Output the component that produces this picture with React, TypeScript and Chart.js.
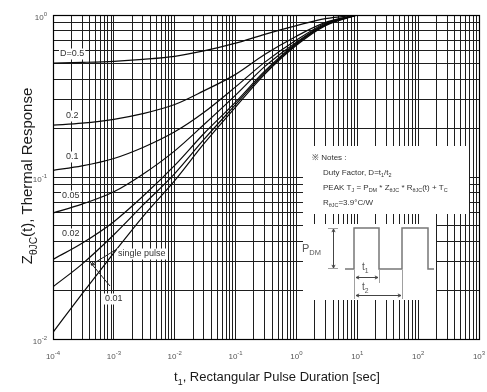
import { useEffect, useRef } from 'react';
import { Chart, registerables } from 'chart.js';

Chart.register(...registerables);

// Rectangular pulse duration t1 [sec]
const pulseDurations = [1e-4, 3e-4, 1e-3, 3e-3, 1e-2, 3e-2, 1e-1, 3e-1, 1, 3, 10];

// Normalised thermal response Zθjc(t) for each duty factor
const responseD050 = [0.505, 0.51, 0.518, 0.532, 0.555, 0.6, 0.67, 0.76, 0.86, 0.95, 1.0];
const responseD020 = [0.209, 0.215, 0.227, 0.246, 0.28, 0.34, 0.43, 0.57, 0.74, 0.9, 1.0];
const responseD010 = [0.11, 0.117, 0.13, 0.152, 0.19, 0.25, 0.36, 0.51, 0.7, 0.89, 1.0];
const responseD005 = [0.06, 0.068, 0.081, 0.104, 0.145, 0.21, 0.32, 0.48, 0.68, 0.88, 1.0];
const responseD002 = [0.031, 0.039, 0.053, 0.076, 0.118, 0.185, 0.29, 0.45, 0.67, 0.87, 1.0];
const responseD001 = [0.021, 0.029, 0.044, 0.067, 0.105, 0.17, 0.28, 0.44, 0.66, 0.87, 1.0];
const responseSingle = [0.011, 0.019, 0.034, 0.057, 0.095, 0.16, 0.27, 0.43, 0.65, 0.86, 1.0];

const seriesNames = ['D=0.5', '0.2', '0.1', '0.05', '0.02', '0.01', 'single pulse'];
const seriesValues = [responseD050, responseD020, responseD010, responseD005, responseD002, responseD001, responseSingle];

// Decade exponents that get a "10^n" label
const xDecades = [-4, -3, -2, -1, 0, 1, 2, 3];
const yDecades = [-2, -1, 0];

const FONT = '"Liberation Sans", Arial, sans-serif';
const TEXT = '#333';

type Run = { t: string; sub?: boolean };

function runsWidth(ctx: CanvasRenderingContext2D, runs: Run[], size: number) {
  let w = 0;
  for (const r of runs) {
    ctx.font = `${r.sub ? size * 0.68 : size}px ${FONT}`;
    w += ctx.measureText(r.t).width;
  }
  return w;
}

function drawRuns(
  ctx: CanvasRenderingContext2D,
  x: number,
  y: number,
  runs: Run[],
  size: number,
  align: 'left' | 'center' | 'right' = 'left'
) {
  const w = runsWidth(ctx, runs, size);
  let cx = align === 'left' ? x : align === 'center' ? x - w / 2 : x - w;
  ctx.textBaseline = 'alphabetic';
  ctx.textAlign = 'left';
  for (const r of runs) {
    ctx.font = `${r.sub ? size * 0.68 : size}px ${FONT}`;
    ctx.fillText(r.t, cx, y + (r.sub ? size * 0.3 : 0));
    cx += ctx.measureText(r.t).width;
  }
}

// "10" with a raised exponent
function drawPower(ctx: CanvasRenderingContext2D, x: number, y: number, exp: number, align: 'center' | 'right') {
  const base = 8;
  const small = 6;
  ctx.font = `${base}px ${FONT}`;
  const bw = ctx.measureText('10').width;
  ctx.font = `${small}px ${FONT}`;
  const es = String(exp);
  const ew = ctx.measureText(es).width;
  const total = bw + ew;
  const sx = align === 'center' ? x - total / 2 : x - total;
  ctx.textAlign = 'left';
  ctx.textBaseline = 'alphabetic';
  ctx.font = `${base}px ${FONT}`;
  ctx.fillText('10', sx, y + 3);
  ctx.font = `${small}px ${FONT}`;
  ctx.fillText(es, sx + bw, y - 1);
}

function arrowHead(ctx: CanvasRenderingContext2D, x: number, y: number, dx: number, dy: number, len = 4) {
  const a = Math.atan2(dy, dx);
  ctx.beginPath();
  ctx.moveTo(x, y);
  ctx.lineTo(x - len * Math.cos(a - 0.45), y - len * Math.sin(a - 0.45));
  ctx.moveTo(x, y);
  ctx.lineTo(x - len * Math.cos(a + 0.45), y - len * Math.sin(a + 0.45));
  ctx.stroke();
}

function labelBox(ctx: CanvasRenderingContext2D, text: string, x: number, y: number, size: number) {
  ctx.font = `${size}px ${FONT}`;
  const w = ctx.measureText(text).width;
  ctx.fillStyle = '#fff';
  ctx.fillRect(x - 1, y - size / 2 - 1, w + 2, size + 2);
  ctx.fillStyle = TEXT;
  ctx.textAlign = 'left';
  ctx.textBaseline = 'middle';
  ctx.fillText(text, x, y);
}

const annotations = {
  id: 'annotations',
  beforeDatasetsDraw(chart: any) {
    const ctx: CanvasRenderingContext2D = chart.ctx;
    ctx.save();
    ctx.fillStyle = '#fff';
    ctx.fillRect(303, 146, 166, 68);
    ctx.fillRect(303, 224, 133, 76);
    ctx.restore();
  },
  afterDatasetsDraw(chart: any) {
    const ctx: CanvasRenderingContext2D = chart.ctx;
    const xs = chart.scales.x;
    const ys = chart.scales.y;
    const area = chart.chartArea;
    ctx.save();

    // frame
    ctx.strokeStyle = '#000';
    ctx.lineWidth = 1.2;
    ctx.strokeRect(Math.round(area.left) + 0.5, Math.round(area.top) + 0.5, Math.round(area.right - area.left), Math.round(area.bottom - area.top));

    // tick labels
    ctx.fillStyle = '#555';
    for (const e of xDecades) drawPower(ctx, xs.getPixelForValue(Math.pow(10, e)), 356, e, 'center');
    for (const e of yDecades) drawPower(ctx, 47, ys.getPixelForValue(Math.pow(10, e)) + 2, e, 'right');

    // curve labels
    labelBox(ctx, seriesNames[0], 60, 54, 9);
    labelBox(ctx, seriesNames[1], 66, 116, 9);
    labelBox(ctx, seriesNames[2], 66, 157, 9);
    labelBox(ctx, seriesNames[3], 62, 196, 9);
    labelBox(ctx, seriesNames[4], 62, 234, 9);
    labelBox(ctx, seriesNames[6], 118, 254, 9);
    labelBox(ctx, seriesNames[5], 105, 299, 9);

    // leaders
    ctx.strokeStyle = '#222';
    ctx.lineWidth = 1;
    ctx.beginPath();
    ctx.moveTo(117, 249);
    ctx.lineTo(91, 265);
    ctx.stroke();
    arrowHead(ctx, 91, 265, -26, 16, 4);
    ctx.beginPath();
    ctx.moveTo(90, 262);
    ctx.lineTo(110, 286);
    ctx.stroke();

    // notes
    ctx.fillStyle = TEXT;
    drawRuns(ctx, 312, 160, [{ t: '※ Notes :' }], 8);
    drawRuns(ctx, 323, 175, [{ t: 'Duty Factor, D=t' }, { t: '1', sub: true }, { t: '/t' }, { t: '2', sub: true }], 8);
    drawRuns(ctx, 323, 190, [
      { t: 'PEAK T' }, { t: 'J', sub: true }, { t: ' = P' }, { t: 'DM', sub: true }, { t: ' * Z' },
      { t: 'θJC', sub: true }, { t: ' * R' }, { t: 'θJC', sub: true }, { t: '(t) + T' }, { t: 'C', sub: true },
    ], 8);
    drawRuns(ctx, 323, 205, [{ t: 'R' }, { t: 'θJC', sub: true }, { t: '=3.9°C/W' }], 8);

    // pulse waveform
    ctx.strokeStyle = '#777';
    ctx.lineWidth = 1.5;
    ctx.beginPath();
    ctx.moveTo(345, 269);
    ctx.lineTo(354, 269);
    ctx.lineTo(354, 228);
    ctx.lineTo(379, 228);
    ctx.lineTo(379, 269);
    ctx.lineTo(402, 269);
    ctx.lineTo(402, 228);
    ctx.lineTo(428, 228);
    ctx.lineTo(428, 269);
    ctx.lineTo(434, 269);
    ctx.stroke();

    // dimension lines
    ctx.lineWidth = 0.8;
    ctx.strokeStyle = '#888';
    ctx.beginPath();
    ctx.moveTo(354.5, 270); ctx.lineTo(354.5, 299);
    ctx.moveTo(379.5, 270); ctx.lineTo(379.5, 283);
    ctx.moveTo(402.5, 270); ctx.lineTo(402.5, 299);
    ctx.moveTo(328, 228.5); ctx.lineTo(338, 228.5);
    ctx.moveTo(328, 268.5); ctx.lineTo(338, 268.5);
    ctx.stroke();
    ctx.strokeStyle = '#444';
    ctx.lineWidth = 1;
    ctx.beginPath();
    ctx.moveTo(333.5, 229); ctx.lineTo(333.5, 268);
    ctx.moveTo(356, 277.5); ctx.lineTo(378, 277.5);
    ctx.moveTo(356, 295.5); ctx.lineTo(401, 295.5);
    ctx.stroke();
    arrowHead(ctx, 333.5, 229, 0, -1, 3.5);
    arrowHead(ctx, 333.5, 268, 0, 1, 3.5);
    arrowHead(ctx, 356, 277.5, -1, 0, 3.5);
    arrowHead(ctx, 378, 277.5, 1, 0, 3.5);
    arrowHead(ctx, 356, 295.5, -1, 0, 3.5);
    arrowHead(ctx, 401, 295.5, 1, 0, 3.5);

    ctx.fillStyle = '#555';
    drawRuns(ctx, 302, 252, [{ t: 'P' }, { t: 'DM', sub: true }], 11);
    drawRuns(ctx, 362, 270, [{ t: 't' }, { t: '1', sub: true }], 10);
    drawRuns(ctx, 362, 290, [{ t: 't' }, { t: '2', sub: true }], 10);

    // axis titles
    ctx.fillStyle = '#1a1a1a';
    drawRuns(ctx, 277, 381, [{ t: 't' }, { t: '1', sub: true }, { t: ', Rectangular Pulse Duration [sec]' }], 13, 'center');
    ctx.translate(32, 176);
    ctx.rotate(-Math.PI / 2);
    drawRuns(ctx, 0, 0, [{ t: 'Z' }, { t: 'θJC', sub: true }, { t: '(t), Thermal Response' }], 15, 'center');

    ctx.restore();
  },
};

// every 1..9 x 10^n inside the axis range becomes a grid line
function logGridTicks(scale: any) {
  const vals: { value: number }[] = [];
  const lo = Math.floor(Math.log10(scale.min));
  const hi = Math.ceil(Math.log10(scale.max));
  for (let e = lo; e <= hi; e++) {
    for (let m = 1; m <= 9; m++) {
      const v = m * Math.pow(10, e);
      if (v >= scale.min * 0.999999 && v <= scale.max * 1.000001) vals.push({ value: v });
    }
  }
  scale.ticks = vals;
}

export default function App() {
  const canvasRef = useRef<HTMLCanvasElement | null>(null);

  useEffect(() => {
    const canvas = canvasRef.current;
    if (!canvas) return;
    const datasets = seriesNames.map((name, i) => ({
      label: name,
      data: pulseDurations.map((t, j) => ({ x: t, y: seriesValues[i][j] })),
      borderColor: '#0a0a0a',
      borderWidth: 1.2,
      pointRadius: 0,
      fill: false,
      cubicInterpolationMode: 'monotone' as const,
    }));

    const chart = new Chart(canvas, {
      type: 'line',
      data: { datasets },
      plugins: [annotations],
      options: {
        responsive: false,
        animation: false,
        layout: { padding: { top: 15, right: 8, left: 0, bottom: 0 } },
        plugins: { legend: { display: false }, tooltip: { enabled: false } },
        scales: {
          x: {
            type: 'logarithmic',
            min: 1e-4,
            max: 1e3,
            afterBuildTicks: logGridTicks,
            afterFit: (s: any) => { s.height = 53; },
            ticks: { display: false },
            grid: { color: '#1e1e1e', lineWidth: 1, drawTicks: false },
            border: { display: false },
          },
          y: {
            type: 'logarithmic',
            min: 0.01,
            max: 1,
            afterBuildTicks: logGridTicks,
            afterFit: (s: any) => { s.width = 53; },
            ticks: { display: false },
            grid: { color: '#1e1e1e', lineWidth: 1, drawTicks: false },
            border: { display: false },
          },
        },
      },
    } as any);
    return () => chart.destroy();
  }, []);

  return (
    <div style={{ position: 'fixed', left: 0, top: 0, width: 487, height: 392, background: '#fff' }}>
      <canvas ref={canvasRef} width={487} height={392} style={{ display: 'block', width: 487, height: 392 }} />
    </div>
  );
}
